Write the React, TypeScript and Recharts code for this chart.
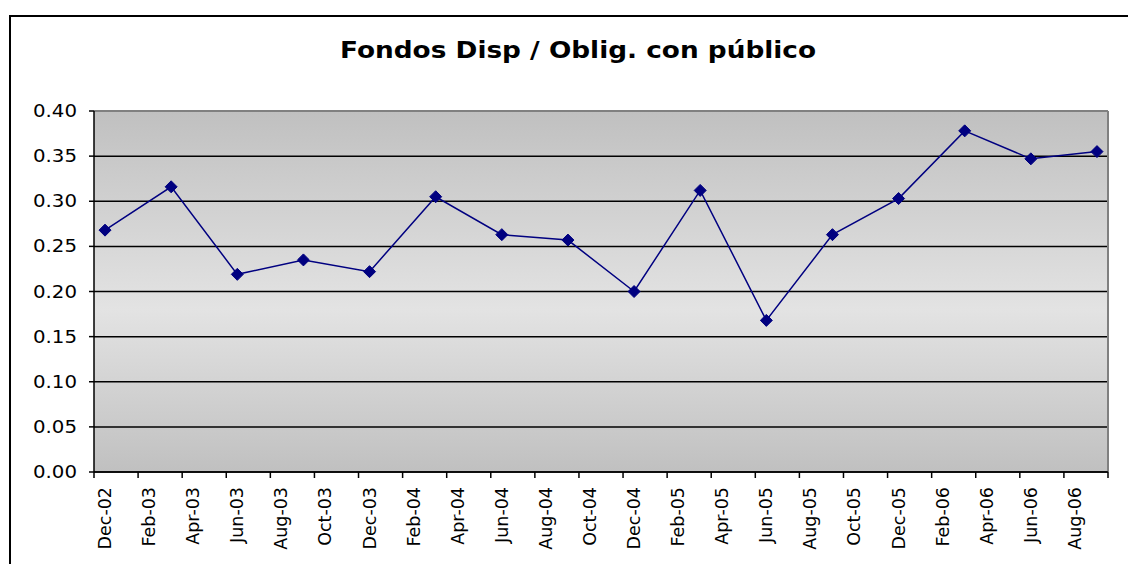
import React from "react";
import {
  LineChart,
  Line,
  XAxis,
  YAxis,
  CartesianGrid,
  ReferenceLine,
} from "recharts";

// quarterly observations
const quarters = [
  "Dec-02", "Mar-03", "Jun-03", "Sep-03", "Dec-03", "Mar-04", "Jun-04", "Sep-04",
  "Dec-04", "Mar-05", "Jun-05", "Sep-05", "Dec-05", "Mar-06", "Jun-06", "Sep-06",
];
const ratio = [
  0.268, 0.316, 0.219, 0.235, 0.222, 0.305, 0.263, 0.257,
  0.2, 0.312, 0.168, 0.263, 0.303, 0.378, 0.347, 0.355,
];

// axis labels (every second month)
const monthLabels = [
  "Dec-02", "Feb-03", "Apr-03", "Jun-03", "Aug-03", "Oct-03", "Dec-03", "Feb-04",
  "Apr-04", "Jun-04", "Aug-04", "Oct-04", "Dec-04", "Feb-05", "Apr-05", "Jun-05",
  "Aug-05", "Oct-05", "Dec-05", "Feb-06", "Apr-06", "Jun-06", "Aug-06",
];
const yTicks = [0, 0.05, 0.1, 0.15, 0.2, 0.25, 0.3, 0.35, 0.4];

const MONTHS = ["Jan", "Feb", "Mar", "Apr", "May", "Jun", "Jul", "Aug", "Sep", "Oct", "Nov", "Dec"];
const monthNum = (label: string) => {
  const [mon, yy] = label.split("-");
  return (2000 + Number(yy)) * 12 + MONTHS.indexOf(mon);
};
const start = monthNum(monthLabels[0]);
const totalMonths = monthNum(quarters[quarters.length - 1]) - start + 1;

const data = quarters.map((q, i) => ({
  label: q,
  m: monthNum(q) - start + 0.5,
  value: ratio[i],
}));
const xTicks = Array.from({ length: monthLabels.length + 1 }, (_, i) => i * 2);

const FONT = "'DejaVu Sans', Verdana, sans-serif";
const NAVY = "#000080";

const XTick = ({ x, y, payload }: any) => {
  const label = monthLabels[payload.value / 2];
  if (!label) return null;
  const cx = x + 11;
  const cy = y + 7;
  return (
    <text
      x={cx}
      y={cy}
      transform={`rotate(-90, ${cx}, ${cy})`}
      textAnchor="end"
      dominantBaseline="central"
      fontFamily={FONT}
      fontSize={17.5}
      fill="#000"
    >
      {label}
    </text>
  );
};

const YTick = ({ x, y, payload }: any) => (
  <text
    x={x}
    y={y}
    textAnchor="end"
    dominantBaseline="central"
    fontFamily={FONT}
    fontSize={17.5}
    textLength={44}
    lengthAdjust="spacingAndGlyphs"
    fill="#000"
  >
    {payload.value.toFixed(2)}
  </text>
);

const Diamond = ({ cx, cy }: any) => (
  <polygon
    points={`${cx},${cy - 6} ${cx + 6},${cy} ${cx},${cy + 6} ${cx - 6},${cy}`}
    fill={NAVY}
    stroke={NAVY}
    strokeWidth={1}
  />
);

export default function App() {
  return (
    <div
      style={{
        position: "relative",
        width: 1128,
        height: 564,
        overflow: "hidden",
        background: "#fff",
      }}
    >
      <style>{"body{margin:0;overflow:hidden}"}</style>
      <div
        style={{
          position: "absolute",
          left: 9,
          top: 15,
          width: 1300,
          height: 800,
          border: "2px solid #000",
        }}
      />
      <div style={{ position: "absolute", left: 0, top: 0 }}>
        <LineChart
          width={1128}
          height={564}
          data={data}
          margin={{ top: 111, right: 20, left: 14, bottom: 12 }}
        >
          <defs>
            <linearGradient id="plotBg" x1="0" y1="0" x2="0" y2="1">
              <stop offset="0%" stopColor="#c0c0c0" />
              <stop offset="55%" stopColor="#e3e3e3" />
              <stop offset="100%" stopColor="#c0c0c0" />
            </linearGradient>
          </defs>
          <text
            x={340}
            y={58}
            fontFamily={FONT}
            fontSize={23}
            fontWeight="bold"
            textLength={476}
            lengthAdjust="spacingAndGlyphs"
            fill="#000"
          >
            Fondos Disp / Oblig. con público
          </text>
          <CartesianGrid
            vertical={false}
            stroke="#000"
            strokeWidth={1.5}
            fill="url(#plotBg)"
            fillOpacity={1}
          />
          <ReferenceLine y={0.4} stroke="#808080" strokeWidth={2} />
          <ReferenceLine x={totalMonths} stroke="#808080" strokeWidth={2} />
          <XAxis
            type="number"
            dataKey="m"
            domain={[0, totalMonths]}
            ticks={xTicks}
            interval={0}
            height={80}
            tickSize={6}
            axisLine={{ stroke: "#000", strokeWidth: 1.5 }}
            tickLine={{ stroke: "#000", strokeWidth: 1.5 }}
            tick={<XTick />}
            allowDataOverflow
          />
          <YAxis
            type="number"
            domain={[0, 0.4]}
            ticks={yTicks}
            interval={0}
            width={80}
            tickSize={5}
            tickMargin={12}
            axisLine={{ stroke: "#000", strokeWidth: 1.5 }}
            tickLine={{ stroke: "#000", strokeWidth: 1.5 }}
            tick={<YTick />}
          />
          <Line
            type="linear"
            dataKey="value"
            stroke={NAVY}
            strokeWidth={1.5}
            dot={<Diamond />}
            activeDot={false}
            isAnimationActive={false}
          />
        </LineChart>
      </div>
    </div>
  );
}
